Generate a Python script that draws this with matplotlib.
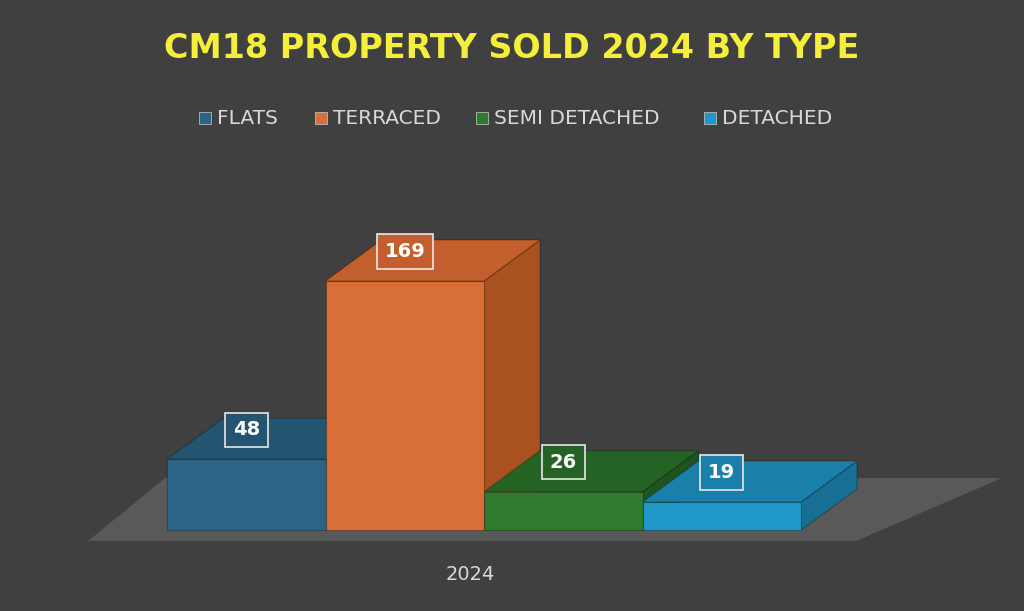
import matplotlib
matplotlib.use("Agg")
import matplotlib.pyplot as plt
from matplotlib.patches import Polygon, Rectangle

categories = ["FLATS", "TERRACED", "SEMI DETACHED", "DETACHED"]
values = [48, 169, 26, 19]
year_label = "2024"
front_cols = ["#2b6585", "#d86f38", "#2e7a2e", "#1f97c8"]
top_cols = ["#235470", "#c25f2c", "#256325", "#1a7fa9"]
side_cols = ["#1f4a63", "#a9521f", "#1f541f", "#176f94"]

fig = plt.figure(figsize=(10.24, 6.11), dpi=100)
fig.patch.set_facecolor("#404040")
ax = fig.add_axes([0, 0, 1, 1])
ax.set_xlim(0, 1024); ax.set_ylim(611, 0); ax.axis("off")

base = 530; x0 = 167; w = 158.5; dx = 56; dy = -41
scale = 249 / 169

ax.add_patch(Polygon([(88, 541), (856, 541), (1002, 478), (165, 478)], closed=True,
                     facecolor="#595959", edgecolor="none", zorder=1))

for i, (v, fc, tc, sc) in enumerate(zip(values, front_cols, top_cols, side_cols)):
    l = x0 + i * w; r = l + w; t = base - v * scale
    ax.add_patch(Polygon([(r, base), (r + dx, base + dy), (r + dx, t + dy), (r, t)],
                         facecolor=sc, edgecolor="#00000040", lw=0.8, zorder=2 + i))
    ax.add_patch(Polygon([(l, t), (r, t), (r + dx, t + dy), (l + dx, t + dy)],
                         facecolor=tc, edgecolor="#00000040", lw=0.8, zorder=2 + i))
    ax.add_patch(Rectangle((l, t), w, base - t, facecolor=fc, edgecolor="#00000040",
                           lw=0.8, zorder=2 + i))
    ax.text(l + w / 2, t + dy * 0.5 - 9, str(v), color="white", fontsize=14,
            fontweight="bold", ha="center", va="center", zorder=20,
            bbox=dict(boxstyle="square,pad=0.4", facecolor=tc, edgecolor="#e8e8e8", lw=1.2))

ax.text(512, 48, "CM18 PROPERTY SOLD 2024 BY TYPE", color="#f5ef3c", fontsize=24,
        fontweight="heavy", ha="center", va="center")

lx = [199, 315, 476, 704]
for x, c, f in zip(lx, categories, front_cols):
    ax.add_patch(Rectangle((x, 112), 12, 12, facecolor=f, edgecolor="#cccccc", lw=0.5))
    ax.text(x + 18, 119, c, color="#d9d9d9", fontsize=14.5, ha="left", va="center")

ax.text(470, 574, year_label, color="#d9d9d9", fontsize=14, ha="center", va="center")
fig.savefig("out.png", dpi=100, facecolor=fig.get_facecolor())
